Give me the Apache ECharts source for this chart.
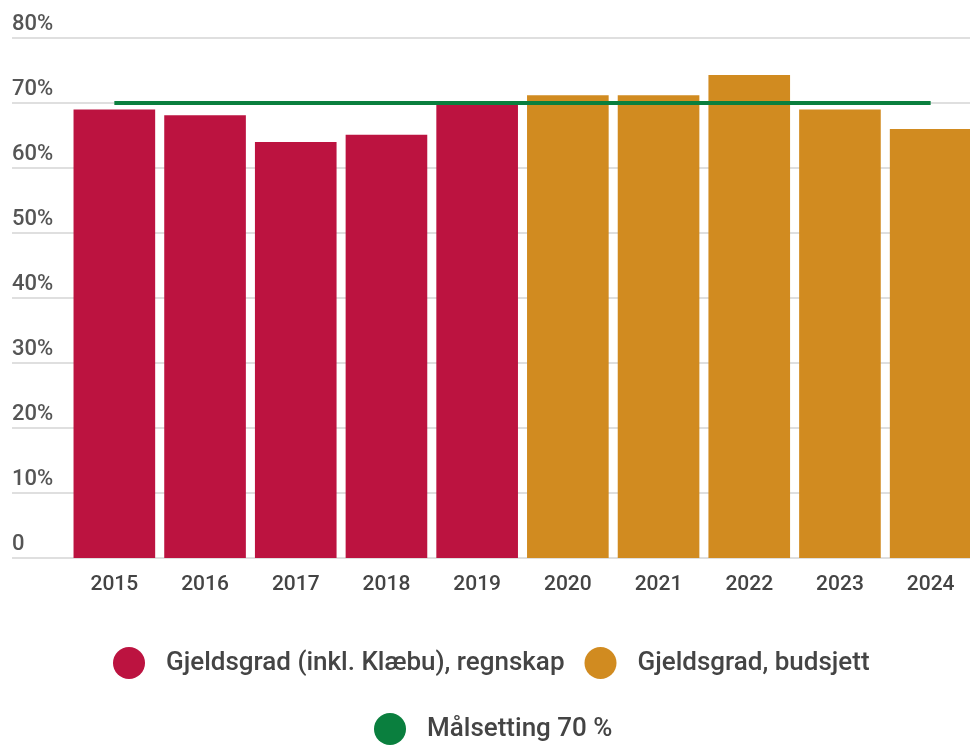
<!DOCTYPE html>
<html>
<head>
<meta charset="utf-8">
<script src="https://cdn.jsdelivr.net/npm/echarts@6/dist/echarts.min.js"></script>
<style>
  html, body { margin: 0; padding: 0; background: #fff; }
  #chart { width: 970px; height: 745px; }
</style>
</head>
<body>
<div id="chart"></div>
<script>
// år og gjeldsgrad (%)
const years = ['2015', '2016', '2017', '2018', '2019', '2020', '2021', '2022', '2023', '2024'];
const regnskap = [69.0, 68.1, 64.0, 65.1, 69.7, null, null, null, null, null];
const budsjett = [null, null, null, null, null, 71.2, 71.2, 74.3, 69.0, 66.0];
const malsetting = [70, 70, 70, 70, 70, 70, 70, 70, 70, 70];
const yTicks = [0, 10, 20, 30, 40, 50, 60, 70, 80];

const names = ['Gjeldsgrad (inkl. Klæbu), regnskap', 'Gjeldsgrad, budsjett', 'Målsetting 70 %'];
const fontFamily = 'Roboto, "Noto Sans", sans-serif';

const chart = echarts.init(document.getElementById('chart'));

const legendBase = {
  icon: 'circle',
  padding: 0,
  itemWidth: 32,
  itemHeight: 32,
  itemGap: 20,
  textStyle: { fontSize: 26, fontWeight: 500, color: '#444', fontFamily: fontFamily, padding: [0, 0, 0, 16] }
};

const option = {
  animation: false,
  backgroundColor: '#fff',
  textStyle: { fontFamily: fontFamily },
  grid: [
    // bare for rutenett og y-etiketter
    { left: 12, right: 0, top: 38, bottom: 187, outerBoundsMode: 'none' },
    // søylene
    { left: 69, width: 907, top: 38, bottom: 187, outerBoundsMode: 'none' }
  ],
  xAxis: [
    { gridIndex: 0, type: 'category', show: false, data: years },
    {
      gridIndex: 1,
      type: 'category',
      data: years,
      axisLine: { show: false },
      axisTick: { show: false },
      axisLabel: { fontSize: 21, fontWeight: 500, color: '#444', margin: 16 }
    }
  ],
  yAxis: [
    {
      gridIndex: 0,
      type: 'value',
      min: yTicks[0],
      max: yTicks[yTicks.length - 1],
      interval: 10,
      axisLine: { show: false },
      axisTick: { show: false },
      axisLabel: {
        inside: true,
        margin: 0,
        align: 'left',
        verticalAlign: 'bottom',
        padding: [0, 0, 3, 0],
        fontSize: 22,
        fontWeight: 500,
        color: '#555',
        formatter: v => v === 0 ? '0' : v + '%'
      },
      splitLine: { lineStyle: { color: '#d4d4d4', width: 1.5 } }
    },
    {
      gridIndex: 1,
      type: 'value',
      min: 0,
      max: 80,
      show: false,
      splitLine: { show: false }
    }
  ],
  legend: [
    Object.assign({ data: names.slice(0, 2), left: 113, top: 647 }, legendBase),
    Object.assign({ data: names.slice(2), left: 374, top: 713 }, legendBase)
  ],
  series: [
    {
      name: names[0],
      type: 'bar',
      xAxisIndex: 1,
      yAxisIndex: 1,
      stack: 'gjeld',
      barCategoryGap: '10%',
      itemStyle: { color: '#BC1340' },
      data: regnskap
    },
    {
      name: names[1],
      type: 'bar',
      xAxisIndex: 1,
      yAxisIndex: 1,
      stack: 'gjeld',
      barCategoryGap: '10%',
      itemStyle: { color: '#D18B20' },
      data: budsjett
    },
    {
      name: names[2],
      type: 'line',
      xAxisIndex: 1,
      yAxisIndex: 1,
      symbol: 'none',
      itemStyle: { color: '#0A7F3E' },
      lineStyle: { color: '#0A7F3E', width: 4 },
      z: 5,
      data: malsetting
    }
  ]
};

chart.setOption(option);
</script>
</body>
</html>
